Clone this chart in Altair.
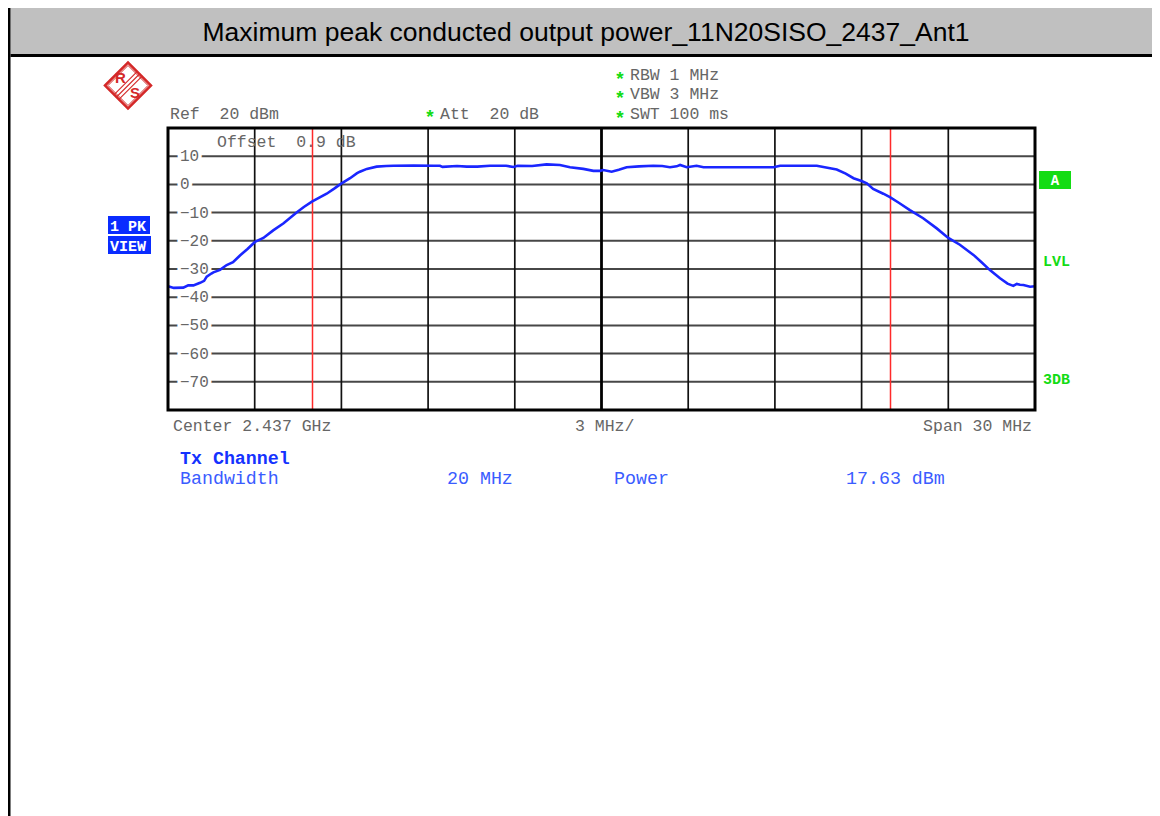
import altair as alt
import pandas as pd

# ---------------- data ----------------
freq_mhz = [-15.0, -14.8, -14.47, -14.3, -14.12, -13.89, -13.75, -13.66, -13.5, -13.43,
            -13.2, -12.97, -12.75, -12.51, -12.25, -11.99, -11.7, -11.36, -11.0, -10.55,
            -10.3, -10.02, -9.75, -9.51, -9.25, -9.02, -8.7, -8.47, -8.36, -8.12,
            -7.78, -7.45, -7.2, -6.5, -5.8, -5.59, -5.5, -5.0, -4.66, -4.3,
            -3.86, -3.3, -3.05, -2.9, -2.4, -1.9, -1.44, -1.09, -0.63, -0.28,
            -0.05, 0.06, 0.35, 0.6, 0.87, 1.3, 1.79, 2.1, 2.37, 2.6,
            2.72, 2.95, 3.29, 3.53, 4.2, 5.0, 5.95, 6.18, 6.8, 7.45,
            7.91, 8.14, 8.45, 8.72, 9.0, 9.18, 9.40, 9.75, 9.98, 10.3,
            10.67, 11.13, 11.6, 12.0, 12.4, 12.87, 13.15, 13.44, 13.79, 14.05,
            14.25, 14.37, 14.48, 14.6, 14.83, 15.0]
level_dbm = [-36.1, -36.7, -36.6, -35.8, -35.8, -34.9, -34.2, -32.7, -31.6, -31.2,
             -30.3, -28.6, -27.6, -25.2, -22.9, -20.4, -19.0, -16.3, -13.8, -10.0,
             -8.0, -6.1, -4.6, -3.3, -1.5, 0.2, 2.2, 3.9, 4.5, 5.5,
             6.3, 6.5, 6.6, 6.7, 6.6, 6.6, 6.2, 6.5, 6.3, 6.3,
             6.6, 6.6, 6.2, 6.6, 6.5, 7.1, 6.9, 6.1, 5.5, 4.8,
             4.8, 5.1, 4.5, 5.2, 6.1, 6.4, 6.6, 6.5, 6.1, 6.4,
             6.9, 6.1, 6.6, 6.1, 6.1, 6.1, 6.1, 6.6, 6.6, 6.6,
             5.7, 5.3, 3.8, 2.2, 1.2, 0.4, -1.6, -3.3, -4.5, -6.6,
             -9.1, -12.0, -15.6, -19.0, -21.4, -25.0, -27.6, -30.4, -33.3, -35.2,
             -36.0, -35.3, -35.6, -35.7, -36.3, -36.1]

x_grid = [-12, -9, -6, -3, 3, 6, 9, 12]
x_center = [0]
y_grid = [10, 0, -10, -20, -30, -40, -50, -60, -70]
y_tick_labels = ["10", "0", "\u221210", "\u221220", "\u221230", "\u221240", "\u221250", "\u221260", "\u221270"]
marker_lines = [-10, 10]
frame_x = [-15, 15]
frame_y = [-80, 20]

title_text = "Maximum peak conducted output power_11N20SISO_2437_Ant1"
NB = "\u00a0"

# ---------------- styling ----------------
MONO = "Liberation Mono"
SANS = "Liberation Sans"
GRAY_TXT = "#666666"
GREEN = "#14dc14"
BLUE_BOX = "#0a2cff"
BLUE_TXT = "#3a5cff"
RED = "#ff2a2a"
LOGO = "#d42828"
W, H = 867, 282

one = pd.DataFrame({"k": [0]})

X = lambda f: alt.X(f, type="quantitative", scale=alt.Scale(domain=frame_x, nice=False, zero=False), axis=None)
Y = lambda f: alt.Y(f, type="quantitative", scale=alt.Scale(domain=frame_y, nice=False, zero=False), axis=None)


def txt(s, x, y, size=16.5, color=GRAY_TXT, align="left", weight="normal", font=MONO, baseline="middle"):
    return alt.Chart(one).mark_text(
        text=s.replace("  ", NB + NB), align=align, baseline=baseline, font=font, fontSize=size,
        fontWeight=weight, color=color
    ).encode(x=alt.value(x), y=alt.value(y))


def box(x1, x2, y1, y2, color):
    return alt.Chart(one).mark_rect(color=color, opacity=1).encode(
        x=alt.value(x1), x2=alt.value(x2), y=alt.value(y1), y2=alt.value(y2))


def seg(x1, y1, x2, y2, color, width):
    return alt.Chart(one).mark_rule(color=color, strokeWidth=width).encode(
        x=alt.value(x1), y=alt.value(y1), x2=alt.value(x2), y2=alt.value(y2))


layers = []

# page decorations: title bar, left border
layers.append(box(-157.5, 990, -120, -74, "#c0c0c0"))
layers.append(box(-157.5, 990, -74, -71, "#000000"))
layers.append(box(-160, -157.5, -120, 690, "#000000"))
layers.append(txt(title_text, 418, -95, size=26.5, color="#000000", align="center", font=SANS))

# R&S logo
layers.append(alt.Chart(one).mark_point(shape="diamond", size=2116, filled=False, color=LOGO,
                                        strokeWidth=2.5, opacity=1).encode(x=alt.value(-40), y=alt.value(-42.5)))
layers.append(alt.Chart(one).mark_point(shape="diamond", size=1600, filled=False, color=LOGO,
                                        strokeWidth=1, opacity=1).encode(x=alt.value(-40), y=alt.value(-42.5)))
for d in (-2.4, 0, 2.4):
    layers.append(seg(-28 + d, -54.5 + d, -52 + d, -30.5 + d, LOGO, 1.1))
layers.append(txt("R", -47.5, -50, size=15, color=LOGO, align="center", weight="bold", font=SANS))
layers.append(txt("S", -33, -35, size=15, color=LOGO, align="center", weight="bold", font=SANS))

# grid
hgrid = pd.DataFrame({"db": y_grid, "lab": y_tick_labels})
layers.append(alt.Chart(hgrid).mark_rule(color="#474747", strokeWidth=2).encode(y=Y("db")))
layers.append(alt.Chart(pd.DataFrame({"f": x_grid})).mark_rule(color="#111111", strokeWidth=1.7).encode(x=X("f")))
layers.append(alt.Chart(pd.DataFrame({"f": x_center})).mark_rule(color="#000000", strokeWidth=2.8).encode(x=X("f")))

# y tick labels with white halo
layers.append(alt.Chart(hgrid).mark_text(align="left", baseline="middle", font=MONO, fontSize=16,
                                          stroke="white", strokeWidth=7, color="white")
              .encode(y=Y("db"), x=alt.value(12), text="lab:N"))
layers.append(alt.Chart(hgrid).mark_text(align="left", baseline="middle", font=MONO, fontSize=16,
                                          color=GRAY_TXT)
              .encode(y=Y("db"), x=alt.value(12), text="lab:N"))

layers.append(txt("Offset  0.9 dB", 49, 14))

# marker lines at channel edges
layers.append(alt.Chart(pd.DataFrame({"f": marker_lines})).mark_rule(color=RED, strokeWidth=1.5).encode(x=X("f")))

# trace
trace = pd.DataFrame({"f": freq_mhz, "db": level_dbm})
layers.append(alt.Chart(trace).mark_line(color="#1a26ff", strokeWidth=2.6, interpolate="linear")
              .encode(x=X("f"), y=Y("db")))

# frame
frame = pd.DataFrame({"f": [frame_x[0]], "f2": [frame_x[1]], "db": [frame_y[0]], "db2": [frame_y[1]]})
layers.append(alt.Chart(frame).mark_rect(fillOpacity=0, stroke="#000000", strokeWidth=3)
              .encode(x=X("f"), x2="f2:Q", y=Y("db"), y2="db2:Q"))

# instrument settings text
layers.append(txt("Ref  20 dBm", 2, -14))
layers.append(txt("*", 262, -11, size=19, color=GREEN, align="center", weight="bold", font=SANS))
layers.append(txt("Att  20 dB", 272, -14))
for label, yy in (("RBW 1 MHz", -53), ("VBW 3 MHz", -34), ("SWT 100 ms", -14)):
    layers.append(txt("*", 452, yy + 3.5, size=19, color=GREEN, align="center", weight="bold", font=SANS))
    layers.append(txt(label, 462, yy))

# left side boxes
layers.append(box(-60, -18, 88, 106, BLUE_BOX))
layers.append(box(-60, -17, 108, 126, BLUE_BOX))
layers.append(txt("1 PK", -58, 97.5, size=15, color="white", weight="bold"))
layers.append(txt("VIEW", -58, 117.5, size=15, color="white", weight="bold"))

# right side labels
layers.append(box(871, 903, 43, 61, GREEN))
layers.append(txt("A", 887, 52.5, size=14, color="white", align="center", weight="bold"))
layers.append(txt("LVL", 875, 133, size=15, color=GREEN, weight="bold"))
layers.append(txt("3DB", 875, 251, size=15, color=GREEN, weight="bold"))

# bottom annotations
layers.append(txt("Center 2.437 GHz", 5, 298))
layers.append(txt("3 MHz/", 407, 298))
layers.append(txt("Span 30 MHz", 864, 298, align="right"))
layers.append(txt("Tx Channel", 12, 331, size=18.3, color="#1432ff", weight="bold"))
layers.append(txt("Bandwidth", 12, 351, size=18.3, color=BLUE_TXT))
layers.append(txt("20 MHz", 279, 351, size=18.3, color=BLUE_TXT))
layers.append(txt("Power", 446, 351, size=18.3, color=BLUE_TXT))
layers.append(txt("17.63 dBm", 678, 351, size=18.3, color=BLUE_TXT))

chart = alt.layer(*layers).properties(
    width=W, height=H,
    padding={"left": 160, "top": 120, "right": 117, "bottom": 406},
    autosize=alt.AutoSizeParams(type="none"),
    background="white",
).configure_view(stroke=None)

chart.save("out.html", embed_options={"renderer": "svg", "actions": False})
